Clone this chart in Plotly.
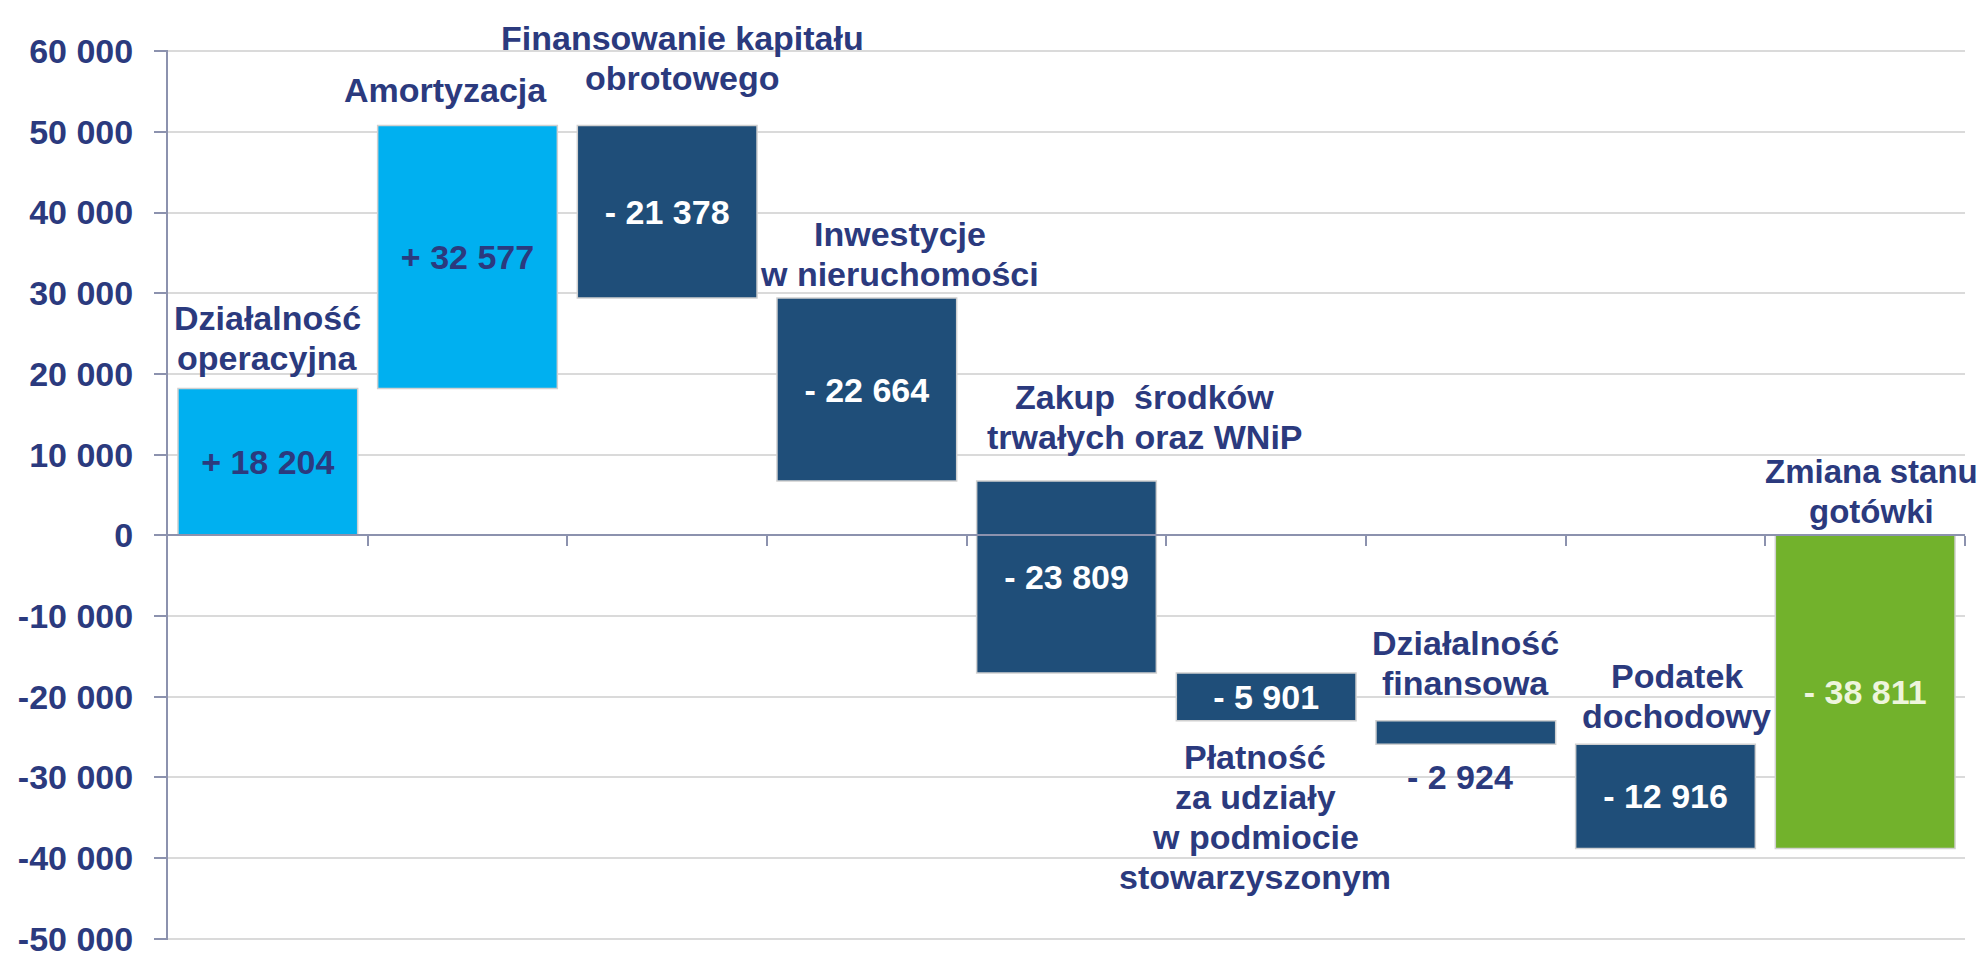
import numpy as np
import plotly.graph_objects as go

# ---------------- data ----------------
categories = [
    ["Działalność", "operacyjna"],
    ["Amortyzacja"],
    ["Finansowanie kapitału", "obrotowego"],
    ["Inwestycje", "w nieruchomości"],
    ["Zakup  środków", "trwałych oraz WNiP"],
    ["Płatność", "za udziały", "w podmiocie", "stowarzyszonym"],
    ["Działalność", "finansowa"],
    ["Podatek", "dochodowy"],
    ["Zmiana stanu", "gotówki"],
]
changes = [18204, 32577, -21378, -22664, -23809, -5901, -2924, -12916]
value_labels = ["+ 18 204", "+ 32 577", "- 21 378", "- 22 664", "- 23 809",
                "- 5 901", "- 2 924", "- 12 916", "- 38 811"]
tick_values = [60000, 50000, 40000, 30000, 20000, 10000, 0,
               -10000, -20000, -30000, -40000, -50000]
tick_labels = ["60 000", "50 000", "40 000", "30 000", "20 000", "10 000", "0",
               "-10 000", "-20 000", "-30 000", "-40 000", "-50 000"]

# ---------------- derived (waterfall geometry from data) ----------------
chg = np.array(changes, dtype=float)
cum = np.cumsum(chg)
bases = np.concatenate([[0.0], cum[:-1], [0.0]])
sizes = np.concatenate([chg, [cum[-1]]])
tops = np.maximum(bases, bases + sizes)
bottoms = np.minimum(bases, bases + sizes)
xs = list(range(len(categories)))

# ---------------- styles ----------------
LIGHT = "#00B0F0"
DARK = "#1F4E79"
GREEN = "#72B22C"
NAVY = "#2B3A7E"
AXIS = "#8C92AE"
FONT = "Liberation Sans, Arial, sans-serif"
FS = 34          # text size
LS = 40          # line spacing (px) for category labels

bar_colors = [LIGHT if s > 0 else DARK for s in chg] + [GREEN]
text_colors = [NAVY, NAVY, "white", "white", "white", "white", NAVY, "white", "#EEF5DD"]
inside = [True] * 6 + [False] + [True] * 2
bar_text = [t if ok else "" for t, ok in zip(value_labels, inside)]

fig = go.Figure()
fig.add_trace(go.Bar(
    x=xs, y=sizes, base=bases, width=0.9,
    marker=dict(color=bar_colors, line=dict(color="#D0D0D0", width=1.5)),
    text=bar_text, textposition="inside", insidetextanchor="middle",
    textfont=dict(family=FONT, size=FS, color=text_colors, weight="bold"),
    constraintext="none", cliponaxis=False, showlegend=False,
    hoverinfo="skip",
))

annotations = []
# value labels that sit outside their bar (below the bar end)
for i, ok in enumerate(inside):
    if not ok:
        annotations.append(dict(
            x=xs[i], y=bottoms[i], xref="x", yref="y", text=value_labels[i],
            showarrow=False, xanchor="center", yanchor="top", xshift=-6, yshift=-12,
            font=dict(family=FONT, size=FS, color=text_colors[i], weight="bold"),
        ))

# category label placement: (side, xshift, yshift, font size)
label_style = [
    ("top", 0, 9, FS),
    ("top", -22, 15, FS),
    ("top", 15, 27, FS),
    ("top", 33, 3, FS),
    ("top", 78, 23, FS),
    ("bottom", -11, -15, FS),
    ("top", 0, 17, FS),
    ("top", 11, 7, FS),
    ("top", 6, 3, 33),
]
for i, (side, dx, dy, fs) in enumerate(label_style):
    lines = categories[i]
    n = len(lines)
    for k, line in enumerate(lines):
        if side == "top":
            yv, ya, ys = tops[i], "bottom", dy + (n - 1 - k) * LS
        else:
            yv, ya, ys = bottoms[i], "top", dy - k * LS
        annotations.append(dict(
            x=xs[i], y=yv, xref="x", yref="y", text=line,
            showarrow=False, xanchor="center", yanchor=ya,
            xshift=dx, yshift=ys,
            font=dict(family=FONT, size=fs, color=NAVY, weight="bold"),
        ))

ymin, ymax = -50000, 60000
pad = 150
fig.update_layout(
    width=1985, height=959,
    margin=dict(l=160, r=28, t=42, b=9),
    paper_bgcolor="white", plot_bgcolor="white",
    bargap=0.1,
    annotations=annotations,
    xaxis=dict(
        type="linear", range=[-0.5, len(categories) - 0.5],
        anchor="free", position=(0 - (ymin - pad)) / ((ymax + pad) - (ymin - pad)),
        showgrid=False, zeroline=False, showticklabels=False,
        showline=True, linecolor=AXIS, linewidth=2,
        ticks="outside", ticklen=10, tickwidth=2, tickcolor=AXIS,
        tickmode="array", tickvals=[i + 0.5 for i in xs],
    ),
    yaxis=dict(
        range=[ymin - pad, ymax + pad], tickmode="array",
        tickvals=tick_values, ticktext=tick_labels,
        showgrid=True, gridcolor="#DADADA", gridwidth=2,
        zeroline=False, showline=True, linecolor=AXIS, linewidth=2,
        ticks="outside", ticklen=12, tickwidth=2, tickcolor=AXIS,
        ticklabelstandoff=14, ticklabeloverflow="allow",
        tickfont=dict(family=FONT, size=FS, color=NAVY, weight="bold"),
    ),
)

fig.write_html("out.html")
